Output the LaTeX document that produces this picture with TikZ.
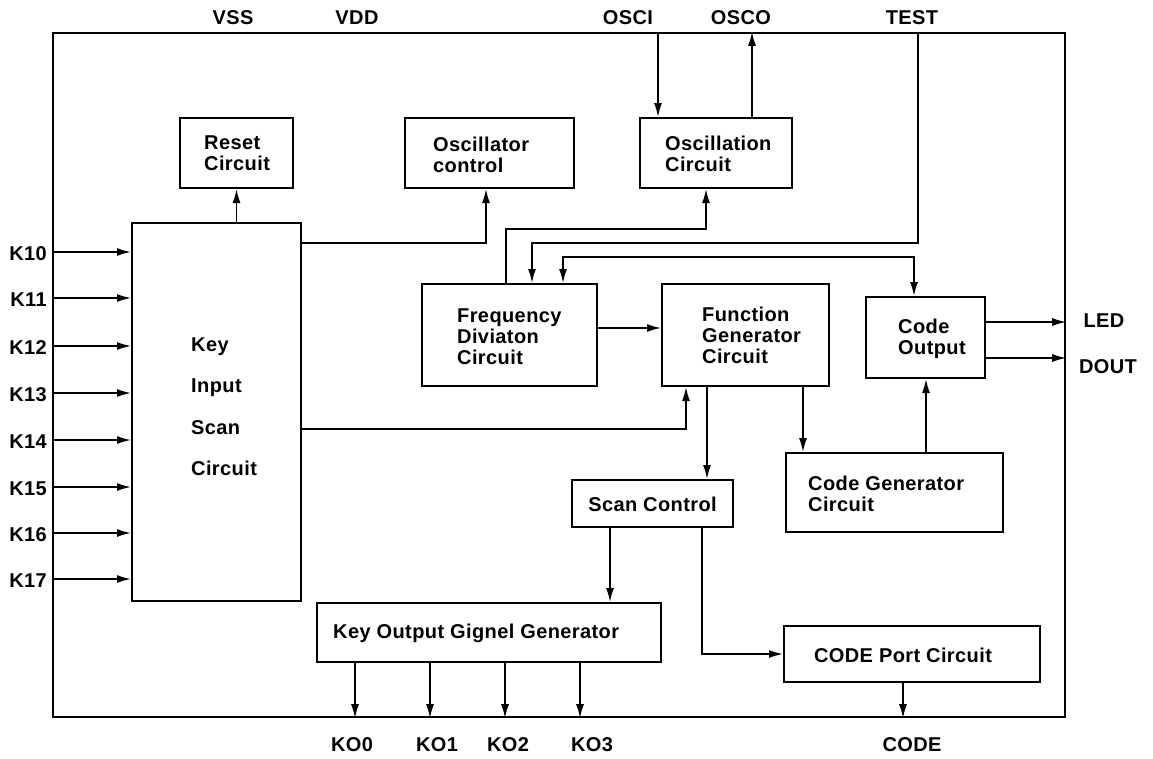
\documentclass[tikz,border=0pt]{standalone}
\usepackage{fontspec}
\setmainfont{Liberation Sans}[LetterSpace=2]
\usetikzlibrary{arrows.meta}
\begin{document}
\begin{tikzpicture}[x=1pt,y=-1pt,
  font=\bfseries\fontsize{20}{21}\selectfont,
  blk/.style={draw, line width=2pt, inner sep=0pt},
  txt/.style={inner sep=0pt, align=left, anchor=west},
  ctxt/.style={inner sep=0pt, align=center},
  con/.style={line width=1.6pt},
  arr/.style={con, -{Latex[length=14pt,width=8pt]}},
  barr/.style={con, {Latex[length=14pt,width=8pt]}-{Latex[length=14pt,width=8pt]}},
]
\useasboundingbox (0,0) rectangle (1153,758);

% frame
\node[draw, line width=2.4pt, inner sep=0pt, minimum width=1012pt, minimum height=684pt] (frame) at (559,375) {};

% blocks
\node[blk, minimum width=169pt, minimum height=378pt] (keyin) at (216.5,412) {};
\node[blk, minimum width=113pt, minimum height=70pt] (reset) at (236.5,153) {};
\node[blk, minimum width=169pt, minimum height=70pt] (oscctl) at (489.5,153) {};
\node[blk, minimum width=152pt, minimum height=70pt] (osc) at (716,153) {};
\node[blk, minimum width=175pt, minimum height=102pt] (freq) at (509.5,335) {};
\node[blk, minimum width=167pt, minimum height=102pt] (func) at (745.5,335) {};
\node[blk, minimum width=119pt, minimum height=81pt] (codeout) at (925.5,337.5) {};
\node[blk, minimum width=217pt, minimum height=79pt] (codegen) at (894.5,492.5) {};
\node[blk, minimum width=161pt, minimum height=47pt] (scan) at (652.5,503.5) {};
\node[blk, minimum width=344pt, minimum height=59pt] (keyout) at (489,632.5) {};
\node[blk, minimum width=256pt, minimum height=56pt] (codeport) at (912,654) {};

% block texts
\node[txt] (tkeyin) at (191,406.5) {Key\\[20.5pt]Input\\[20.5pt]Scan\\[20.5pt]Circuit};
\node[txt] (treset) at (204,153.5) {Reset\\Circuit};
\node[txt] (toscctl) at (433,155) {Oscillator\\control};
\node[txt] (tosc) at (665,154) {Oscillation\\Circuit};
\node[txt] (tfreq) at (457,337) {Frequency\\Diviaton\\Circuit};
\node[txt] (tfunc) at (702,335) {Function\\Generator\\Circuit};
\node[txt] (tcodeout) at (898,339) {Code\\Output};
\node[txt] (tcodegen) at (808,494) {Code Generator\\Circuit};
\node[ctxt] (tscan) at (652.5,504) {Scan Control};
\node[txt] (tkeyout) at (333,633) {Key Output Gignel Generator};
\node[ctxt] (tcodeport) at (903,655) {CODE Port Circuit};

% pin labels
\node[ctxt] (lvss) at (233,18) {VSS};
\node[ctxt] (lvdd) at (357,18) {VDD};
\node[ctxt] (losci) at (628,18) {OSCI};
\node[ctxt] (losco) at (741,18) {OSCO};
\node[ctxt] (ltest) at (912,18) {TEST};
\node[ctxt] (lled) at (1104,321) {LED};
\node[ctxt] (ldout) at (1108,367) {DOUT};
\node[ctxt] (lko0) at (352,745) {KO0};
\node[ctxt] (lko1) at (437,745) {KO1};
\node[ctxt] (lko2) at (508,745) {KO2};
\node[ctxt] (lko3) at (592,745) {KO3};
\node[ctxt] (lcode) at (912,745) {CODE};

% key inputs
\foreach \y/\t in {252/K10,298/K11,346/K12,393/K13,440/K14,487/K15,533/K16,579/K17} {
  \draw[arr] (frame.west |- 0,\y) -- (keyin.west |- 0,\y);
  \node[inner sep=0pt, anchor=east] (l\t) at (47,{\y+2}) {\t};
}

% connectors
\draw[arr] (frame.north -| 658,0) -- (osc.north -| 658,0);
\draw[arr] (osc.north -| 752,0) -- (frame.north -| 752,0);
\draw[arr] (keyin.north -| reset.south) -- (reset.south);
\draw[arr] (keyin.east |- 0,243) -| (oscctl.south -| 486,0);
\draw[arr] (freq.north -| 506,0) -- (506,229) -| (osc.south -| 706,0);
\draw[arr] (frame.north -| 918,0) |- (532,243) -- (freq.north -| 532,0);
\draw[barr] (freq.north -| 563,0) |- (914,257) -- (codeout.north -| 914,0);
\draw[arr] (freq.east |- 0,328) -- (func.west |- 0,328);
\draw[arr] (keyin.east |- 0,429) -| (func.south -| 686,0);
\draw[arr] (func.south -| 707,0) -- (scan.north -| 707,0);
\draw[arr] (func.south -| 803,0) -- (codegen.north -| 803,0);
\draw[arr] (codegen.north -| 926,0) -- (codeout.south -| 926,0);
\draw[arr] (codeout.east |- 0,322) -- (frame.east |- 0,322);
\draw[arr] (codeout.east |- 0,358) -- (frame.east |- 0,358);
\draw[arr] (scan.south -| 610,0) -- (keyout.north -| 610,0);
\draw[arr] (scan.south -| 702,0) |- (codeport.west |- 0,654);
\draw[arr] (codeport.south -| 903,0) -- (frame.south -| 903,0);
\foreach \x in {355,430,505,580} {
  \draw[arr] (keyout.south -| \x,0) -- (frame.south -| \x,0);
}
\end{tikzpicture}
\end{document}
